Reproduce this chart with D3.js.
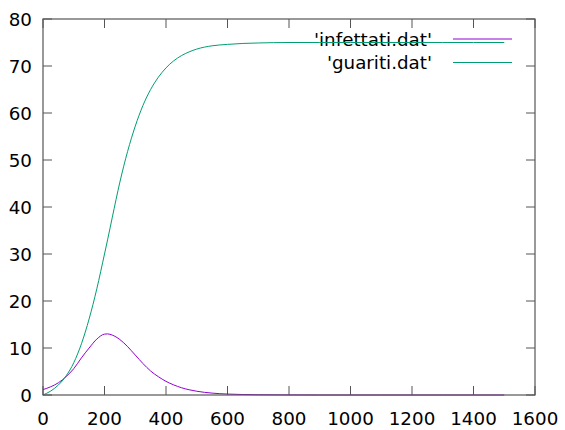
<!DOCTYPE html>
<meta charset='utf-8'>
<style>
  body { margin: 0; background: #fff; }
  svg text { font-family: "DejaVu Sans", sans-serif; font-size: 18.3px; fill: #000; }
</style>
<body>
<div id="viz"></div>
<script src="https://cdn.jsdelivr.net/npm/d3@7"></script>
<script>

// x values of the samples (days)
const tempi = [0, 25, 50, 75, 100, 125, 150, 175, 200, 210, 225, 250, 275, 300, 325, 350, 375,
  400, 425, 450, 475, 500, 550, 600, 650, 700, 800, 900, 1000, 1100, 1200, 1300, 1400, 1500];

// 'infettati.dat'
const infettati = [1.15, 1.75, 2.6, 3.9, 5.6, 7.9, 10.0, 11.9, 12.95, 13.0, 12.75, 11.8, 10.3, 8.5, 6.7, 5.1, 3.9,
  2.9, 2.15, 1.55, 1.12, 0.8, 0.4, 0.2, 0.1, 0.05, 0.01, 0, 0, 0, 0, 0, 0, 0];

// 'guariti.dat'
const guariti = [0, 0.84, 2.13, 4.05, 6.86, 10.9, 16.2, 22.6, 30.0, 33.0, 37.7, 45.3, 51.8, 57.2, 61.6, 65.0, 67.6,
  69.6, 71.1, 72.2, 73.0, 73.6, 74.3, 74.6, 74.8, 74.9, 75.0, 75.0, 75.0, 75.0, 75.0, 75.0, 75.0, 75.0];

const xTicks = [0, 200, 400, 600, 800, 1000, 1200, 1400, 1600];
const yTicks = [0, 10, 20, 30, 40, 50, 60, 70, 80];

const series = [
  {name: "'infettati.dat'", values: infettati, color: '#9400d3'},
  {name: "'guariti.dat'", values: guariti, color: '#009e73'}
];

const W = 565, H = 430;
const margin = {left: 43, right: 30, top: 19, bottom: 35};
const width = W - margin.left - margin.right;
const height = H - margin.top - margin.bottom;

const svg = d3.select('#viz').append('svg')
  .attr('width', W).attr('height', H);

const g = svg.append('g')
  .attr('transform', `translate(${margin.left},${margin.top})`);

const x = d3.scaleLinear().domain([0, 1600]).range([0, width]);
const y = d3.scaleLinear().domain([0, 80]).range([height, 0]);

const tickLen = 9;
const borderColor = '#555';

// ticks (inward, mirrored)
const ticks = g.append('g').attr('stroke', borderColor).attr('stroke-width', 1);
xTicks.forEach(t => {
  ticks.append('line').attr('x1', x(t)).attr('x2', x(t)).attr('y1', height).attr('y2', height - tickLen);
  ticks.append('line').attr('x1', x(t)).attr('x2', x(t)).attr('y1', 0).attr('y2', tickLen);
});
yTicks.forEach(t => {
  ticks.append('line').attr('x1', 0).attr('x2', tickLen).attr('y1', y(t)).attr('y2', y(t));
  ticks.append('line').attr('x1', width).attr('x2', width - tickLen).attr('y1', y(t)).attr('y2', y(t));
});

// tick labels
g.append('g').selectAll('text').data(xTicks).join('text')
  .attr('x', d => x(d)).attr('y', height + 30)
  .attr('text-anchor', 'middle')
  .text(d => d);

g.append('g').selectAll('text').data(yTicks).join('text')
  .attr('x', -11).attr('y', d => y(d))
  .attr('dy', '0.36em')
  .attr('text-anchor', 'end')
  .text(d => d);

// key (drawn under the curves, like gnuplot)
const key = g.append('g');
series.forEach((s, i) => {
  const ky = 20 + i * 23.5;
  key.append('text')
    .attr('x', 432 - margin.left).attr('y', ky)
    .attr('dy', '0.36em')
    .attr('text-anchor', 'end')
    .text(s.name);
  key.append('line')
    .attr('x1', 453 - margin.left).attr('x2', 512 - margin.left)
    .attr('y1', ky).attr('y2', ky)
    .attr('stroke', s.color).attr('stroke-width', 1);
});

// curves
const line = d3.line()
  .x((d, i) => x(tempi[i]))
  .y(d => y(d))
  .curve(d3.curveMonotoneX);

series.forEach(s => {
  g.append('path')
    .attr('d', line(s.values))
    .attr('fill', 'none')
    .attr('stroke', s.color)
    .attr('stroke-width', 1);
});

// border
g.append('rect')
  .attr('width', width).attr('height', height)
  .attr('fill', 'none')
  .attr('stroke', borderColor)
  .attr('stroke-width', 1.2);

</script>
</body>
